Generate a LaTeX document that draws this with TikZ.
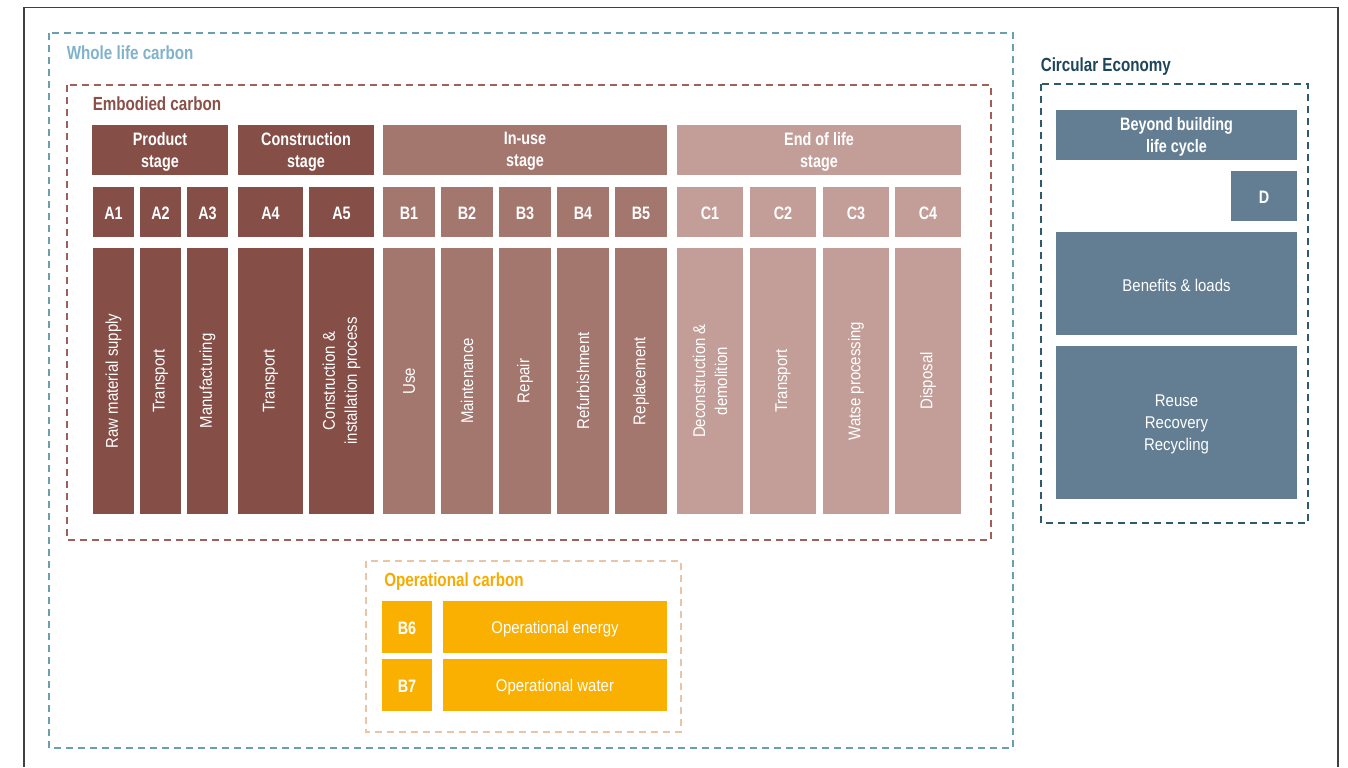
\documentclass[tikz,border=0pt]{standalone}
\usepackage{fontspec}
\setmainfont{Liberation Sans}[FakeStretch=0.88,BoldFeatures={FakeStretch=0.8}]
\usetikzlibrary{fit,positioning}
\definecolor{prodBrown}{HTML}{854F48}
\definecolor{useBrown}{HTML}{A3766E}
\definecolor{endBrown}{HTML}{C39E98}
\definecolor{circBlue}{HTML}{637E92}
\definecolor{operYellow}{HTML}{F9B000}
\definecolor{wholeText}{HTML}{80B3CB}
\definecolor{wholeDash}{HTML}{6A9FAE}
\definecolor{embText}{HTML}{8A4F48}
\definecolor{embDash}{HTML}{A0605A}
\definecolor{circText}{HTML}{1E4659}
\definecolor{circDash}{HTML}{2E5A6E}
\definecolor{operText}{HTML}{F5AB00}
\definecolor{operDash}{HTML}{EBC4A4}
\tikzset{
myBlock/.style={rectangle,inner sep=0pt}
, myBold/.style={
	inner sep=0pt,text=white,align=center,yshift=-1.2pt,
	font=\fontsize{13.5}{16.5}\selectfont\bfseries
}
, myPlain/.style={
	inner sep=0pt,text=white,align=center,
	font=\fontsize{12.75}{16.5}\selectfont
}
, myText/.style={myPlain,yshift=-1.2pt}
, myVert/.style={myPlain,rotate=90}
, myTitle/.style={
	anchor=base west,inner sep=0pt,
	font=\fontsize{14.25}{17}\selectfont\bfseries
}
, myDash/.style={line width=1.1pt,dash pattern=on 5.25pt off 3.75pt}
, myFrame/.style={line width=1.1pt,color=black!75}
}

\begin{document}
\begin{tikzpicture}[x=0.75pt,y=-0.75pt]
	\useasboundingbox (0,0) rectangle (1348,767);
	% frame
	\draw[myFrame] (24,767) -- (24,7.5) -- (1338,7.5) -- (1338,767);
	% dashed groups
	\draw[myDash,wholeDash] (49,33) rectangle (1013,748);
	\draw[myDash,embDash] (67,85) rectangle (991,540);
	\draw[myDash,circDash] (1041,84) rectangle (1308,523);
	\draw[myDash,operDash] (366,561) rectangle (681,732);
	% titles
	\node[myTitle,text=wholeText] (WholeTitle) at (66.5,59.5) {Whole life carbon};
	\node[myTitle,text=embText] (EmbTitle) at (92.5,110) {Embodied carbon};
	\node[myTitle,text=circText] (CircTitle) at (1040.5,72) {Circular Economy};
	\node[myTitle,text=operText] (OperTitle) at (384,586.5) {Operational carbon};

	% stages
	\node[myBlock,fill=prodBrown,fit={(92,125)(228,175)}] (Product) {};
	\node[myBold] (ProductTxt) at (Product) {Product\\stage};
	\node[myBlock,fill=prodBrown,fit={(238,125)(374,175)}] (Construction) {};
	\node[myBold] (ConstructionTxt) at (Construction) {Construction\\stage};
	\node[myBlock,fill=useBrown,fit={(383,125)(667,175)}] (InUse) {};
	\node[myBold] (InUseTxt) at (InUse) {In-use\\stage};
	\node[myBlock,fill=endBrown,fit={(677,125)(961,175)}] (EndOfLife) {};
	\node[myBold] (EndOfLifeTxt) at (EndOfLife) {End of life\\stage};

	% modules
	\foreach \nm/\xa/\xb/\col/\lbl in {
		A1/93/134/prodBrown/{Raw material supply},
		A2/140/181/prodBrown/{Transport},
		A3/187/228/prodBrown/{Manufacturing},
		A4/238/303/prodBrown/{Transport},
		A5/309/374/prodBrown/{Construction \&\\installation process},
		B1/383/435/useBrown/{Use},
		B2/441/493/useBrown/{Maintenance},
		B3/499/551/useBrown/{Repair},
		B4/557/609/useBrown/{Refurbishment},
		B5/615/667/useBrown/{Replacement},
		C1/677/743/endBrown/{Deconstruction \&\\demolition},
		C2/750/816/endBrown/{Transport},
		C3/823/889/endBrown/{Watse processing},
		C4/895/961/endBrown/{Disposal}}
	{
		\node[myBlock,fill=\col,fit={(\xa,187)(\xb,237)}] (\nm) {};
		\node[myBold] (\nm code) at (\nm) {\nm};
		\node[myBlock,fill=\col,fit={(\xa,248)(\xb,514)}] (\nm col) {};
		\node[myVert] (\nm txt) at (\nm col) {\lbl};
	}

	% circular economy
	\node[myBlock,fill=circBlue,fit={(1056,110)(1297,160)}] (Beyond) {};
	\node[myBold] (BeyondTxt) at (Beyond) {Beyond building\\life cycle};
	\node[myBlock,fill=circBlue,fit={(1231,171)(1297,221)}] (D) {};
	\node[myBold] (DTxt) at (D) {D};
	\node[myBlock,fill=circBlue,fit={(1056,232)(1297,335)}] (Benefits) {};
	\node[myText] (BenefitsTxt) at (Benefits) {Benefits \& loads};
	\node[myBlock,fill=circBlue,fit={(1056,346)(1297,499)}] (Reuse) {};
	\node[myText] (ReuseTxt) at (Reuse) {Reuse\\Recovery\\Recycling};

	% operational carbon
	\node[myBlock,fill=operYellow,fit={(382,601)(432,653)}] (B6) {};
	\node[myBold] (B6Txt) at (B6) {B6};
	\node[myBlock,fill=operYellow,fit={(443,601)(667,653)}] (Energy) {};
	\node[myText] (EnergyTxt) at (Energy) {Operational energy};
	\node[myBlock,fill=operYellow,fit={(382,659)(432,711)}] (B7) {};
	\node[myBold] (B7Txt) at (B7) {B7};
	\node[myBlock,fill=operYellow,fit={(443,659)(667,711)}] (Water) {};
	\node[myText] (WaterTxt) at (Water) {Operational water};
\end{tikzpicture}
\end{document}
